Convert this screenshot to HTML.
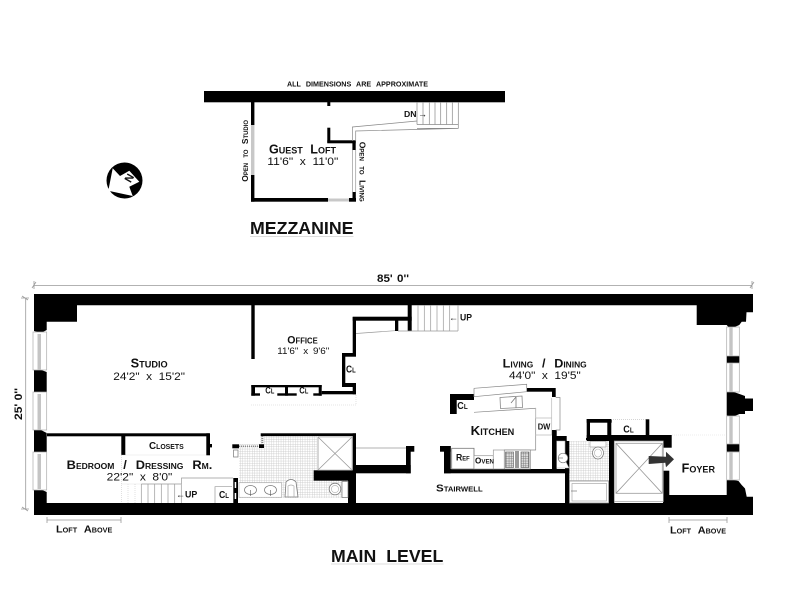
<!DOCTYPE html>
<html><head><meta charset="utf-8"><style>
html,body{margin:0;padding:0;background:#fff}
svg{display:block}
text{font-family:"Liberation Sans",sans-serif;fill:#111}
.b{font-weight:bold;font-variant:small-caps}
.p{font-weight:bold}
</style></head><body>
<svg width="786" height="606" viewBox="0 0 786 606" xmlns="http://www.w3.org/2000/svg">
<defs>
<pattern id="t" width="2.4" height="2.4" patternUnits="userSpaceOnUse"><rect width="2.4" height="2.4" fill="#fff"/><path d="M0 0H2.4M0 0V2.4" stroke="#c4c4c4" stroke-width=".7"/></pattern>
<pattern id="s" width="2.4" height="2.4" patternUnits="userSpaceOnUse"><rect width="2.4" height="2.4" fill="#ddd"/><path d="M0 0H2.4M0 0V2.4" stroke="#666" stroke-width=".8"/></pattern>
</defs>
<rect width="786" height="606" fill="#fff"/>

<!-- MEZZANINE -->
<g fill="#000">
<rect x="204" y="91" width="301" height="11.3"/>
<rect x="251" y="102" width="3.4" height="23"/>
<rect x="251" y="175" width="3.4" height="26.7"/>
<rect x="251" y="198" width="77" height="3.7"/>
<rect x="349" y="198" width="7" height="3.7"/>
<rect x="352.5" y="192" width="3.3" height="8"/>
<rect x="327.3" y="102" width="3" height="4"/>
<rect x="327.3" y="127.7" width="3" height="15"/>
<rect x="327.3" y="140.3" width="28.4" height="3"/>
<rect x="352.4" y="141" width="3.3" height="9"/>
</g>
<rect x="251" y="125" width="3.4" height="50" fill="#c8c8c8"/>
<rect x="328" y="198.5" width="21" height="3" fill="#c8c8c8"/>
<path d="M352.4 150V192M355.7 150V192" stroke="#999" stroke-width=".7" fill="none"/>
<path d="M352.4 141V127L417 121M355.7 141V131L458.5 128.4H417" stroke="#888" stroke-width=".7" fill="none"/>
<path d="M417 102V124.5M423 102V124.5M429.3 102V124.5M435 102V124.5M440.7 102V124.5M446.7 102V124.5M452.3 102V124.5M458.3 102V128.4M417 124.5H458.3" stroke="#888" stroke-width=".7" fill="none"/>

<!-- NORTH -->
<circle cx="124.5" cy="180.5" r="18" fill="#000"/>
<polygon points="112.7,168.3 120,176 129.3,170.7 139.3,181.7 129.3,186.7 132.7,196 108.3,190.7" fill="#fff"/>
<text class="p" font-size="11" transform="translate(130,178.5) rotate(-60)" text-anchor="middle" dominant-baseline="middle">N</text>

<!-- MAIN outer walls -->
<g fill="#000">
<polygon points="34,294 753,294 753,312.3 746.5,312.3 746,321.7 741.7,321.7 739.3,325 730,329 726.7,325 696.7,325 696.7,305.3 77,305.3 77,321.7 46.7,321.7 46.7,330 41,333 34,331"/>
<polygon points="34,370 40,369.5 46.7,372 46.7,392 40,394.5 34,394"/>
<polygon points="34,430 40,429.5 46.7,433 46.7,452 40,454.5 34,454"/>
<polygon points="34,489 40,489 46.7,492 46.7,503 233,503 233,503 663,503 663,495 726.7,495 726.7,479 734,480 738.5,481 741.7,485 745,488.5 746.7,496.7 753,496.7 753,515 34,515"/>
<polygon points="726.7,391.7 733,391.7 739.5,394 745,396 745,398.5 753,398.5 753,411 745,411 745,414 739.5,414 733,416.7 726.7,415.5"/>
<rect x="726.7" y="356" width="12.7" height="7.3"/>
<rect x="726.7" y="444" width="12.7" height="7.7"/>
</g>
<!-- windows -->
<g fill="#fff" stroke="#aaa" stroke-width=".7">
<rect x="33" y="332" width="13.7" height="38"/>
<rect x="33" y="392" width="13.7" height="38"/>
<rect x="33" y="452" width="13.7" height="38"/>
<rect x="726.7" y="327" width="12.6" height="29"/>
<rect x="726.7" y="363" width="12.6" height="29"/>
<rect x="726.7" y="416" width="12.6" height="28"/>
<rect x="726.7" y="452" width="12.6" height="28"/>
</g>
<g fill="#c4c4c4">
<rect x="37.5" y="334" width="3.5" height="36"/><rect x="37.5" y="394" width="3.5" height="36"/><rect x="37.5" y="454" width="3.5" height="35"/>
<rect x="729.3" y="327" width="3.4" height="29"/><rect x="729.3" y="363" width="3.4" height="29"/><rect x="729.3" y="416" width="3.4" height="28"/><rect x="729.3" y="452" width="3.4" height="28"/>
</g>

<!-- Tile -->
<rect x="239" y="436" width="78" height="62" fill="url(#t)"/>
<rect x="313" y="480" width="36" height="18" fill="url(#t)"/>
<rect x="228" y="436" width="32" height="8" fill="#fff"/>
<rect x="569" y="441" width="40" height="40" fill="url(#t)"/>

<!-- Bedroom -->
<g fill="#000">
<rect x="47" y="433.3" width="162.5" height="3"/>
<rect x="121.3" y="436" width="4" height="19"/>
<rect x="206.3" y="433.3" width="3.7" height="22"/>
<rect x="210" y="444" width="2" height="3.4"/>
<rect x="233.3" y="478" width="4.7" height="25"/>
</g>
<rect x="234.7" y="482" width="1.5" height="6" fill="#fff"/>
<rect x="234.7" y="493" width="1.5" height="6" fill="#fff"/>
<path d="M181.5 484V478H233M215 503V486.7H232" stroke="#999" stroke-width=".7" fill="none"/>
<path d="M141.3 484V503M148 484V503M154.7 484V503M161.3 484V503M168 484V503M174.7 484V503M181.3 484V503M141.3 484H181.3" stroke="#999" stroke-width=".7" fill="none"/>
<path d="M121.5 455V503M128 484V503M135 484V503M121.5 455H206M121.5 484H141" stroke="#ccc" stroke-width=".6" stroke-dasharray="1 1" fill="none"/>

<!-- Office -->
<g fill="#000">
<rect x="251.3" y="305" width="3.4" height="54"/>
<rect x="407.7" y="305" width="4" height="26"/>
<rect x="352.7" y="316.7" width="59" height="4"/>
<rect x="395" y="320" width="3.3" height="11"/>
<rect x="352.7" y="317" width="3.3" height="39.5"/>
<rect x="342" y="353" width="14" height="3.7"/>
<rect x="342" y="353" width="3.3" height="34"/>
<rect x="342" y="383" width="14" height="4"/>
<rect x="352.7" y="383" width="3.3" height="11.3"/>
<rect x="321.7" y="391" width="34.3" height="3.3"/>
<rect x="251.3" y="385" width="70.4" height="2.3"/>
<rect x="251.3" y="385" width="3.7" height="10.7"/>
<rect x="285" y="385" width="3" height="10.7"/>
<rect x="318.7" y="385" width="3" height="10.7"/>
<rect x="251.3" y="393.3" width="8.7" height="2.4"/>
<rect x="277.3" y="393.3" width="19.4" height="2.4"/>
<rect x="313.3" y="393.3" width="8.4" height="2.4"/>
</g>
<path d="M356 333.5L395 330.7" stroke="#999" stroke-width=".7"/>
<path d="M251 405H356V394" stroke="#ccc" stroke-width=".6" stroke-dasharray="1 1" fill="none"/>
<path d="M418 305V331M424.3 305V331M430.7 305V331M437 305V331M443.3 305V331M449.7 305V331M458 305V331M411.7 331H458M398 331H412" stroke="#999" stroke-width=".7" fill="none"/>

<!-- Bath centre -->
<g fill="#000">
<rect x="260.7" y="433.3" width="95.3" height="2.8"/>
<rect x="352.7" y="433.3" width="3.3" height="38"/>
<rect x="313.7" y="470.3" width="42.3" height="10.4"/>
<rect x="348" y="471" width="8" height="32"/>
<rect x="232.3" y="444.3" width="6.7" height="4"/>
<rect x="259" y="444.3" width="5" height="3.7"/>
<rect x="356" y="465" width="54.7" height="8.3"/>
<rect x="406" y="446" width="4.7" height="27.3"/>
<rect x="406" y="446" width="8.3" height="5.7"/>
</g>
<path d="M239 446.3H259" stroke="#888" stroke-width="1.6" stroke-dasharray="1 1"/>
<path d="M262.3 436V444" stroke="#888" stroke-width="2" stroke-dasharray="1 1"/>
<rect x="233.5" y="450" width="4.5" height="7" fill="#fff" stroke="#777" stroke-width=".7"/>
<rect x="317.3" y="436.5" width="35" height="33.5" fill="#fff"/>
<path d="M318 437V470M318 437L352 470M352 437L318 470" stroke="#999" stroke-width=".8" fill="none"/>
<path d="M318 437H352V470H318" stroke="#bbb" stroke-width=".7" fill="none"/>
<path d="M356 448H406" stroke="#999" stroke-width=".7"/>
<rect x="239" y="482.7" width="42.7" height="14.6" fill="#fff" stroke="#aaa" stroke-width=".7"/>
<ellipse cx="250.5" cy="490" rx="6" ry="4.5" fill="#fff" stroke="#777" stroke-width=".7"/>
<ellipse cx="270.5" cy="490" rx="6" ry="4.5" fill="#fff" stroke="#777" stroke-width=".7"/>
<path d="M250.5 490V496M270.5 490V496" stroke="#555" stroke-width=".6"/>
<path d="M285 497L286 482Q291 477 296 482L298 497Z" fill="#fff" stroke="#777" stroke-width=".8"/>
<path d="M288 497V486Q291 484 294 486V497" fill="none" stroke="#aaa" stroke-width=".7"/>
<rect x="342" y="481.5" width="6" height="16" fill="#fff" stroke="#777" stroke-width=".7"/>
<circle cx="335" cy="489" r="5.8" fill="#fff" stroke="#777" stroke-width=".8"/>
<circle cx="335" cy="489" r="3.6" fill="#fff" stroke="#aaa" stroke-width=".6"/>

<!-- Kitchen -->
<g fill="#000">
<rect x="450" y="394" width="24" height="6"/>
<rect x="450" y="394" width="6.7" height="20"/>
<rect x="444" y="446" width="6.7" height="27.3"/>
<rect x="440" y="446" width="10.7" height="5.7"/>
<rect x="444" y="469" width="125.3" height="4.3"/>
<rect x="526.7" y="388" width="28.3" height="3.7"/>
<rect x="552" y="388" width="3.7" height="9"/>
<rect x="552" y="430" width="4.7" height="40"/>
<rect x="552" y="436" width="14.7" height="5.7"/>
<rect x="565" y="441" width="4.3" height="62"/>
</g>
<path d="M474 388.3L526.7 384.3V390M474 388.3V397M474 396.7L526.7 391.7M474 412.3L535.7 408.3V450H504" stroke="#888" stroke-width=".7" fill="none"/>
<path d="M555.7 397.5H560V430H555.7" stroke="#888" stroke-width=".7" fill="#fff"/>
<path d="M535.7 408V418H551.7V435H535.7M551.7 418V398" stroke="#bbb" stroke-width=".7" fill="none"/>
<polygon points="500,397.5 522,396 522.5,407.5 500.5,408.5" fill="#fff" stroke="#888" stroke-width=".8"/>
<path d="M516 397V408M516 397L511 403" stroke="#777" stroke-width=".8" fill="none"/>
<rect x="451.7" y="448.3" width="22.3" height="20.7" fill="#fff" stroke="#777" stroke-width=".8"/>
<rect x="474" y="455.7" width="19.3" height="13.3" fill="#fff" stroke="#999" stroke-width=".7"/>
<rect x="493.3" y="450" width="11" height="19" fill="#fff" stroke="#999" stroke-width=".7"/>
<rect x="504.3" y="450" width="26" height="19" fill="#fff" stroke="#888" stroke-width=".7"/>
<rect x="505.5" y="452" width="8" height="15.5" fill="url(#s)" stroke="#555" stroke-width=".6"/>
<rect x="521" y="452" width="8" height="15.5" fill="url(#s)" stroke="#555" stroke-width=".6"/>
<rect x="515" y="451" width="4" height="17" fill="#999"/>
<!-- right bath -->
<path d="M556.7 441H565V460L569 468H556.7Z" fill="#fff" stroke="#aaa" stroke-width=".6"/>
<circle cx="563" cy="458" r="4.8" fill="#fff" stroke="#777" stroke-width=".7"/>
<path d="M558 458H563" stroke="#666" stroke-width=".6"/>
<rect x="569.5" y="481" width="39" height="22" fill="#fff" stroke="#888" stroke-width=".7"/>
<rect x="572" y="483.5" width="34.5" height="17.5" fill="#fff" stroke="#aaa" stroke-width=".7"/>
<path d="M571 491H577" stroke="#777" stroke-width=".7"/>

<!-- right closet & elevator -->
<g fill="#000">
<rect x="586.7" y="419" width="25" height="3.7"/>
<rect x="586.7" y="419" width="3.3" height="19"/>
<rect x="607.3" y="419" width="4" height="20"/>
<rect x="586.7" y="435" width="85" height="6"/>
<rect x="645.7" y="419.3" width="3.6" height="18"/>
<rect x="663.3" y="441" width="8.4" height="6.7"/>
<rect x="663" y="470.7" width="6.3" height="26"/>
<rect x="609" y="441" width="5.3" height="63"/>
<rect x="586" y="438" width="4" height="2"/>
</g>
<path d="M611 419.3H646" stroke="#bbb" stroke-width=".6" stroke-dasharray="1 1"/>
<path d="M672 435H726" stroke="#ddd" stroke-width=".6" stroke-dasharray="1 1"/>
<rect x="590" y="441.5" width="16" height="5.5" fill="#fff" stroke="#999" stroke-width=".6"/>
<ellipse cx="598" cy="453" rx="5.5" ry="6" fill="#fff" stroke="#777" stroke-width=".7"/>
<ellipse cx="598" cy="453" rx="3.5" ry="4" fill="#fff" stroke="#aaa" stroke-width=".6"/>
<rect x="614.3" y="441" width="49" height="60.7" fill="#fff" stroke="#999" stroke-width=".7"/>
<rect x="616" y="443.3" width="46.3" height="50" fill="#fff" stroke="#999" stroke-width=".8"/>
<path d="M616 443.3L662.3 493.3M662.3 443.3L616 493.3" stroke="#999" stroke-width=".8"/>
<polygon points="648.7,456 666,456.7 666,451.7 674,459.3 666,467.3 665.3,462.7 648.7,464" fill="#333"/>

<!-- Dimension lines -->
<g stroke="#999" stroke-width=".8" fill="none">
<path d="M34 285.5H752M32 288L36 282M750 288L754 282M34 281V289M752 281V289"/>
<path d="M25.7 298V510M21 298H29M21 509H29M22 296L28 300M22 507L28 511"/>
<path d="M47 520H121M47 517V523M121 517V523"/>
<path d="M669 520H727M669 517V523M727 517V523"/>
</g>
<path d="M250 236.5H353.5M331 564H443.5" stroke="#ddd" stroke-width="1"/>

<!-- Text -->
<text x="287" y="86.7" class="p" font-size="7" textLength="141" lengthAdjust="spacingAndGlyphs" word-spacing="3">ALL DIMENSIONS ARE APPROXIMATE</text>
<text x="404" y="117" class="p" font-size="8.5" textLength="12.5" lengthAdjust="spacingAndGlyphs">DN</text>
<text x="418" y="117" font-size="9">→</text>
<text x="269" y="153.3" class="b" font-size="12.5" textLength="67" lengthAdjust="spacingAndGlyphs" word-spacing="4">Guest Loft</text>
<text x="267.3" y="165" font-size="11" textLength="71" lengthAdjust="spacingAndGlyphs" word-spacing="3">11'6" x 11'0"</text>
<text x="250" y="234" class="p" font-size="17.5" textLength="103.5" lengthAdjust="spacingAndGlyphs">MEZZANINE</text>
<text transform="translate(248,181.7) rotate(-90)" class="b" font-size="8.5" textLength="61.7" lengthAdjust="spacingAndGlyphs" word-spacing="3">Open to Studio</text>
<text transform="translate(359.5,141.7) rotate(90)" class="b" font-size="8.5" textLength="60" lengthAdjust="spacingAndGlyphs" word-spacing="3">Open to Living</text>

<text x="377" y="282" font-size="11" textLength="32" lengthAdjust="spacingAndGlyphs" style="font-weight:bold" word-spacing="1">85' 0''</text>
<text transform="translate(22,420) rotate(-90)" class="p" font-size="11" textLength="32" lengthAdjust="spacingAndGlyphs">25' 0''</text>

<text x="130.7" y="367.7" class="b" font-size="12.5" textLength="37" lengthAdjust="spacingAndGlyphs">Studio</text>
<text x="113.3" y="380" font-size="11" textLength="71.7" lengthAdjust="spacingAndGlyphs" word-spacing="3">24'2" x 15'2"</text>
<text x="66.7" y="469" class="b" font-size="12" textLength="145.6" lengthAdjust="spacingAndGlyphs" word-spacing="5">Bedroom / Dressing Rm.</text>
<text x="106.7" y="480.7" font-size="11" textLength="65.6" lengthAdjust="spacingAndGlyphs" word-spacing="3">22'2" x 8'0"</text>
<text x="149" y="449" class="b" font-size="10" textLength="34.7" lengthAdjust="spacingAndGlyphs">Closets</text>
<text x="176" y="497.3" font-size="9">←</text>
<text x="185" y="497.3" class="p" font-size="9" textLength="12.3" lengthAdjust="spacingAndGlyphs">UP</text>
<text x="219" y="498" class="b" font-size="10" textLength="10" lengthAdjust="spacingAndGlyphs">Cl</text>

<text x="287.3" y="343.7" class="b" font-size="11" textLength="30.4" lengthAdjust="spacingAndGlyphs">Office</text>
<text x="277.3" y="354" font-size="9.5" textLength="52" lengthAdjust="spacingAndGlyphs" word-spacing="2">11'6" x 9'6"</text>
<text x="265.3" y="393.7" class="b" font-size="9.5" textLength="9" lengthAdjust="spacingAndGlyphs">Cl</text>
<text x="299.3" y="393.7" class="b" font-size="9.5" textLength="9" lengthAdjust="spacingAndGlyphs">Cl</text>
<text x="346" y="372.7" class="b" font-size="10" textLength="9.7" lengthAdjust="spacingAndGlyphs">Cl</text>

<text x="449" y="320.7" font-size="9">←</text>
<text x="460" y="320.7" class="p" font-size="9" textLength="12" lengthAdjust="spacingAndGlyphs">UP</text>
<text x="502.7" y="367.7" class="b" font-size="12" textLength="84" lengthAdjust="spacingAndGlyphs" word-spacing="5">Living / Dining</text>
<text x="509" y="379" font-size="11" textLength="71.7" lengthAdjust="spacingAndGlyphs" word-spacing="3">44'0" x 19'5"</text>
<text x="457.3" y="409" class="b" font-size="10" textLength="10.4" lengthAdjust="spacingAndGlyphs">Cl</text>
<text x="470.7" y="435" class="b" font-size="13" textLength="43.6" lengthAdjust="spacingAndGlyphs">Kitchen</text>
<text x="537.7" y="429.3" class="p" font-size="8.5" textLength="12.6" lengthAdjust="spacingAndGlyphs">DW</text>
<text x="456" y="460.7" class="b" font-size="9" textLength="13.7" lengthAdjust="spacingAndGlyphs">Ref</text>
<text x="475" y="463.3" class="b" font-size="8" textLength="19" lengthAdjust="spacingAndGlyphs">Oven</text>
<text x="436" y="491.7" class="b" font-size="10.5" textLength="46.7" lengthAdjust="spacingAndGlyphs">Stairwell</text>
<text x="623.3" y="432.3" class="b" font-size="10" textLength="10.4" lengthAdjust="spacingAndGlyphs">Cl</text>
<text x="681.7" y="472.7" class="b" font-size="12.5" textLength="33.3" lengthAdjust="spacingAndGlyphs">Foyer</text>
<text x="56" y="532.7" class="b" font-size="10.5" textLength="56.3" lengthAdjust="spacingAndGlyphs" word-spacing="4">Loft Above</text>
<text x="670" y="533.3" class="b" font-size="10.5" textLength="56" lengthAdjust="spacingAndGlyphs" word-spacing="4">Loft Above</text>
<text x="331" y="562" class="p" font-size="17.5" textLength="112.3" lengthAdjust="spacingAndGlyphs" word-spacing="5">MAIN LEVEL</text>
</svg>
</body></html>
